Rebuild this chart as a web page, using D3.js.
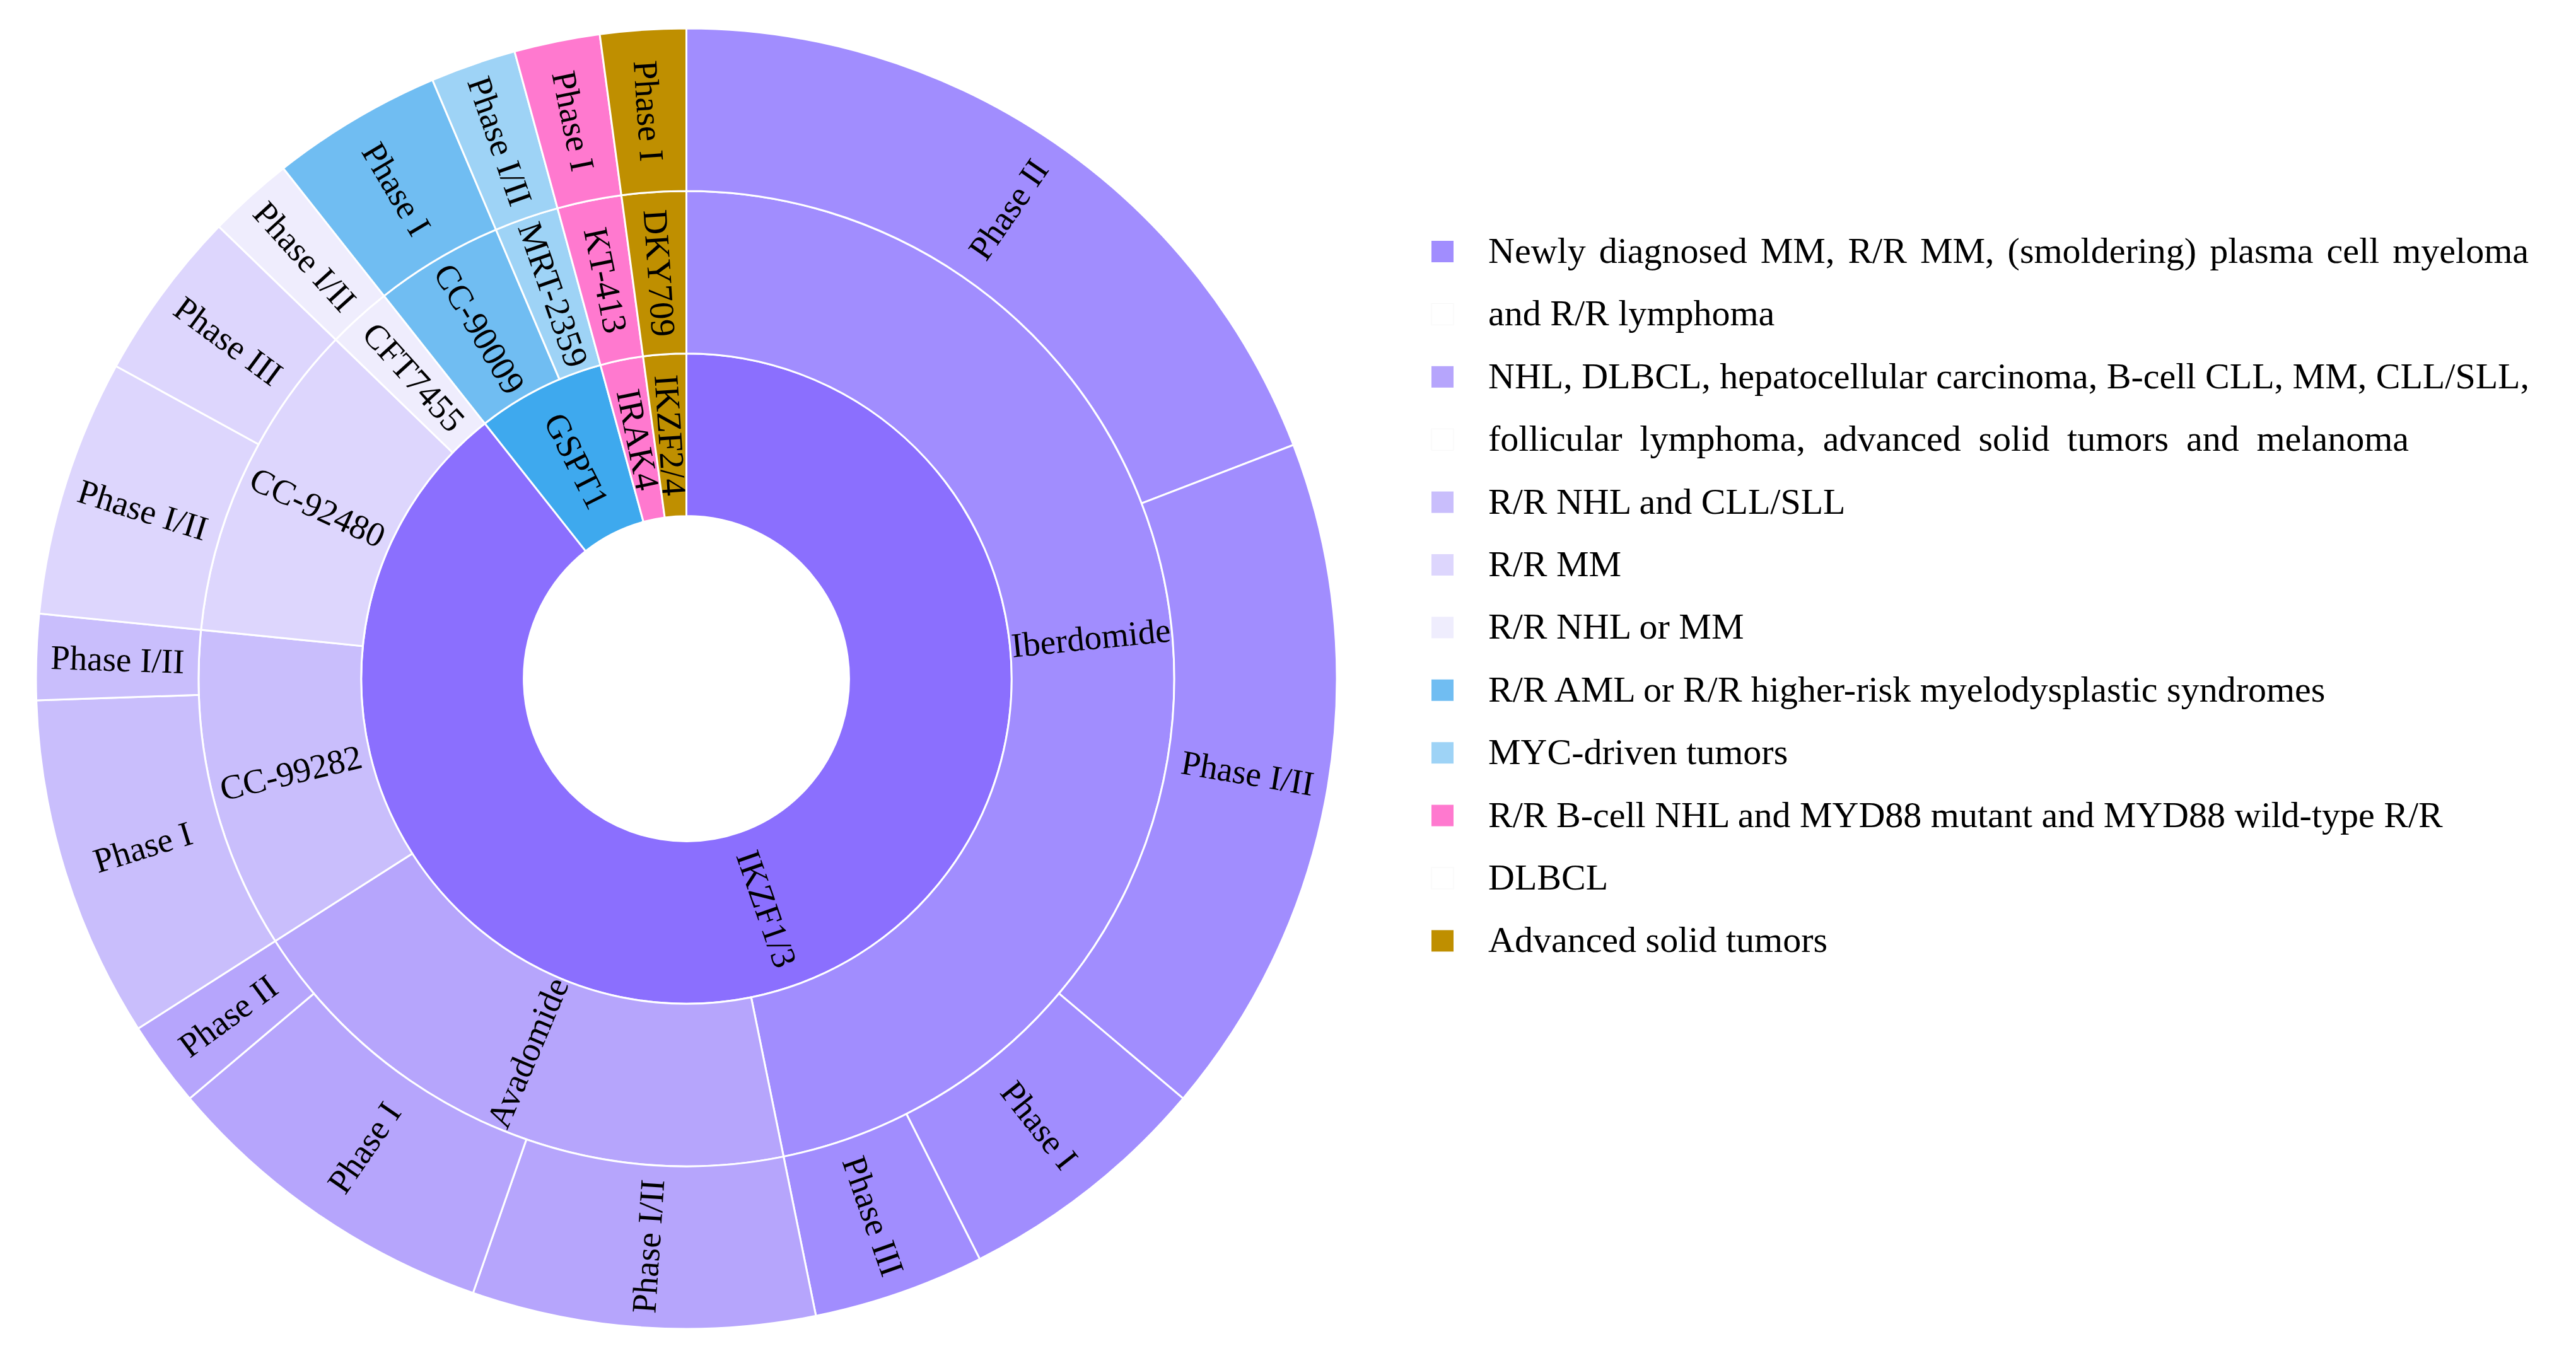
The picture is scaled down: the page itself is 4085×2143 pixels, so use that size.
<!DOCTYPE html>
<html>
<head>
<meta charset="utf-8">
<script src="https://d3js.org/d3.v7.min.js"></script>
<style type="text/css">
body {margin:0;background:#fff;}
svg {display:block;}
text {font-family:"Liberation Serif","DejaVu Serif",serif;fill:#000;}
</style>
</head>
<body>
<svg id="chart" width="4085" height="2143"></svg>

<script type="text/javascript">
	// inner ring: protein targets
	var targets = ["IKZF1/3", "GSPT1", "IRAK4", "IKZF2/4"];

	// middle ring: degraders and their target
	var drugs = ["Iberdomide", "Avadomide", "CC-99282", "CC-92480", "CFT7455", "CC-90009", "MRT-2359", "KT-413", "DKY709"];
	var drugTarget = ["IKZF1/3", "IKZF1/3", "IKZF1/3", "IKZF1/3", "IKZF1/3", "GSPT1", "GSPT1", "IRAK4", "IKZF2/4"];

	// outer ring: number of trials per phase
	var phaseDrug = ["Iberdomide", "Iberdomide", "Iberdomide", "Iberdomide",
		"Avadomide", "Avadomide", "Avadomide",
		"CC-99282", "CC-99282",
		"CC-92480", "CC-92480",
		"CFT7455", "CC-90009", "MRT-2359", "KT-413", "DKY709"];
	var phaseName = ["Phase II", "Phase I/II", "Phase I", "Phase III",
		"Phase I/II", "Phase I", "Phase II",
		"Phase I", "Phase I/II",
		"Phase I/II", "Phase III",
		"Phase I/II", "Phase I", "Phase I/II", "Phase I", "Phase I"];
	var phaseTrials = [9, 8, 3, 2, 4, 4, 1, 4, 1, 3, 2, 1, 2, 1, 1, 1];

	var legendLabels = [
		"Newly diagnosed MM, R/R MM, (smoldering) plasma cell myeloma",
		"and R/R lymphoma",
		"NHL, DLBCL, hepatocellular carcinoma, B-cell CLL, MM, CLL/SLL,",
		"follicular lymphoma, advanced solid tumors and melanoma",
		"R/R NHL and CLL/SLL",
		"R/R MM",
		"R/R NHL or MM",
		"R/R AML or R/R higher-risk myelodysplastic syndromes",
		"MYC-driven tumors",
		"R/R B-cell NHL and MYD88 mutant and MYD88 wild-type R/R",
		"DLBCL",
		"Advanced solid tumors"];
	// right edge a wrapped line is spread to (0 = natural width)
	var justifyTo = [4010, 0, 4010, 3820, 0, 0, 0, 0, 0, 0, 0, 0];

	var targetColor = {"IKZF1/3": "#8b6ffe", "GSPT1": "#3ea9ee", "IRAK4": "#ff79cf", "IKZF2/4": "#bf8f00"};
	var drugColor = {"Iberdomide": "#a18dfe", "Avadomide": "#b6a5fc", "CC-99282": "#c9befc", "CC-92480": "#ddd6fd",
		"CFT7455": "#efedfd", "CC-90009": "#70bdf2", "MRT-2359": "#9ed3f6", "KT-413": "#ff79cf", "DKY709": "#bf8f00"};
	var legendColors = ["#a18dfe", "#ffffff", "#b6a5fc", "#ffffff", "#c9befc", "#ddd6fd", "#efedfd",
		"#70bdf2", "#9ed3f6", "#ff79cf", "#ffffff", "#bf8f00"];

	var cx = 1088.5, cy = 1076.5, R = 1031.5;

	// build the tree
	var tree = {name: "root", children: targets.map(function(t) {
		return {name: t, children: drugs.filter(function(d, i) { return drugTarget[i] == t; }).map(function(d) {
			return {name: d, children: phaseName.map(function(p, i) {
				return {name: p, drug: phaseDrug[i], value: phaseTrials[i]};
			}).filter(function(p) { return p.drug == d; })};
		})};
	})};

	var root = d3.hierarchy(tree).sum(function(d) { return d.value || 0; });
	d3.partition().size([2 * Math.PI, 4])(root);

	var radius = d3.scaleLinear().domain([0, 4]).range([0, R]);

	var arc = d3.arc()
		.startAngle(function(d) { return d.x0; })
		.endAngle(function(d) { return d.x1; })
		.innerRadius(function(d) { return radius(d.y0); })
		.outerRadius(function(d) { return radius(d.y1); });

	function fillOf(d) {
		if (d.depth == 1) return targetColor[d.data.name];
		if (d.depth == 2) return drugColor[d.data.name];
		return drugColor[d.parent.data.name];
	}

	var svg = d3.select("#chart");
	var g = svg.append("g").attr("transform", "translate(" + cx + "," + cy + ")");

	var nodes = root.descendants().filter(function(d) { return d.depth > 0; });

	g.selectAll("path")
		.data(nodes)
		.enter().append("path")
		.attr("d", arc)
		.attr("fill", fillOf)
		.attr("stroke", "#fff")
		.attr("stroke-width", 3);

	g.selectAll("text.lab")
		.data(nodes)
		.enter().append("text")
		.attr("class", "lab")
		.attr("transform", function(d) {
			var a = (d.x0 + d.x1) / 2 * 180 / Math.PI;
			var rm = radius((d.y0 + d.y1) / 2);
			return "rotate(" + (a - 90) + ") translate(" + rm + ",0) rotate(" + (a > 180 ? 180 : 0) + ")";
		})
		.attr("text-anchor", "middle")
		.attr("dy", "0.33em")
		.style("font-size", "55px")
		.text(function(d) { return d.data.name; });

	// legend
	var lx = 2270, ltx = 2360, ly0 = 399, lstep = 99.4;
	var leg = svg.append("g");
	legendLabels.forEach(function(lab, i) {
		var y = ly0 + lstep * i;
		leg.append("rect")
			.attr("x", lx).attr("y", y - 17)
			.attr("width", 35).attr("height", 34)
			.attr("fill", legendColors[i])
			.attr("stroke", legendColors[i] == "#ffffff" ? "#f7f7f7" : "none")
			.attr("stroke-width", 1);
		var t = leg.append("text")
			.attr("x", ltx).attr("y", y + 18)
			.style("font-size", "58px")
			.text(lab);
		if (justifyTo[i] > 0) {
			var w = t.node().getComputedTextLength();
			var spaces = lab.split(" ").length - 1;
			var extra = (justifyTo[i] - ltx - w) / spaces;
			if (extra > 0) t.style("word-spacing", extra + "px");
		}
	});
</script>
</body>
</html>
